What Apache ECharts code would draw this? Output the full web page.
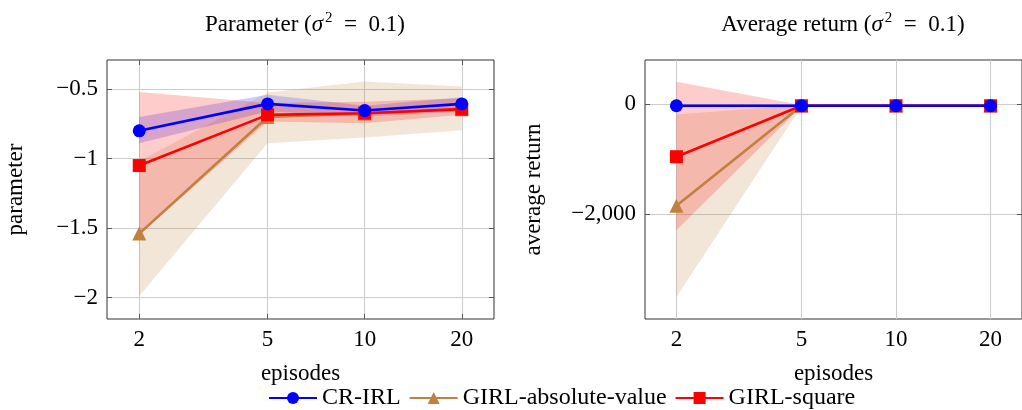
<!DOCTYPE html>
<html>
<head>
<meta charset="utf-8">
<script src="https://cdn.jsdelivr.net/npm/echarts@6/dist/echarts.min.js"></script>
<style>
  html, body { margin: 0; padding: 0; background: #fff; }
  #chart { width: 1022px; height: 410px; }
</style>
</head>
<body>
<div id="chart"></div>
<script>
// Episodes on a log-scaled x axis
const episodes = [2, 5, 10, 20];
const methodNames = ['CR-IRL', 'GIRL-absolute-value', 'GIRL-square'];

// Left panel: learned parameter (mean, lower and upper band)
const paramMean = {
  'CR-IRL':              [-0.80, -0.606, -0.654, -0.606],
  'GIRL-absolute-value': [-1.54, -0.70, -0.675, -0.645],
  'GIRL-square':         [-1.05, -0.685, -0.673, -0.644]
};
const paramLow = {
  'CR-IRL':              [-0.89, -0.66, -0.697, -0.661],
  'GIRL-absolute-value': [-1.99, -0.889, -0.848, -0.795],
  'GIRL-square':         [-1.55, -0.733, -0.745, -0.685]
};
const paramHigh = {
  'CR-IRL':              [-0.70, -0.541, -0.62, -0.558],
  'GIRL-absolute-value': [-1.02, -0.524, -0.445, -0.481],
  'GIRL-square':         [-0.52, -0.60, -0.59, -0.565]
};

// Right panel: average return (mean, lower and upper band)
const returnMean = {
  'CR-IRL':              [-30, -30, -30, -30],
  'GIRL-absolute-value': [-1843, -30, -30, -30],
  'GIRL-square':         [-955, -30, -30, -30]
};
const returnLow = {
  'CR-IRL':              [-45, -45, -45, -45],
  'GIRL-absolute-value': [-3500, -45, -45, -45],
  'GIRL-square':         [-2290, -45, -45, -45]
};
const returnHigh = {
  'CR-IRL':              [-15, -15, -15, -15],
  'GIRL-absolute-value': [-190, -15, -15, -15],
  'GIRL-square':         [405, -15, -15, -15]
};

const paramTicks = [-2, -1.5, -1, -0.5];
const returnTicks = [-2000, 0];

const colors = {
  'CR-IRL': '#0000ff',
  'GIRL-absolute-value': '#bf8040',
  'GIRL-square': '#ff0000'
};
const bandFill = {
  'CR-IRL': 'rgba(0,0,255,0.2)',
  'GIRL-absolute-value': 'rgba(191,128,64,0.2)',
  'GIRL-square': 'rgba(255,0,0,0.2)'
};
const symbols = {
  'CR-IRL': 'circle',
  'GIRL-absolute-value': 'triangle',
  'GIRL-square': 'rect'
};
const zOrder = { 'CR-IRL': 6, 'GIRL-absolute-value': 4, 'GIRL-square': 5 };

const FONT = '"Liberation Serif", "Times New Roman", serif';
const lg = v => Math.log10(v);
const xTickVals = episodes.map(lg);
const xMin = lg(2) - 0.1, xMax = lg(20) + 0.1;
const minus = s => s.replace('-', '\u2212');
const tickStyle = { color: '#555', width: 1 };

function xAxes(gridIndex) {
  const common = {
    type: 'value', gridIndex, min: xMin, max: xMax,
    axisLine: { show: false },
    splitLine: { show: false }
  };
  return [
    Object.assign({}, common, {
      position: 'bottom',
      name: 'episodes', nameLocation: 'middle', nameGap: 43,
      nameTextStyle: { fontFamily: FONT, fontSize: 23, color: '#000' },
      axisTick: { show: true, inside: true, length: 5, customValues: xTickVals, lineStyle: tickStyle },
      axisLabel: { show: true, customValues: xTickVals, margin: 9, fontFamily: FONT, fontSize: 23, color: '#000',
                   formatter: v => String(Math.round(Math.pow(10, v))) },
      splitLine: { show: true, lineStyle: { color: '#cccccc', width: 1 } }
    }),
    Object.assign({}, common, {
      position: 'top',
      axisTick: { show: true, inside: true, length: 5, customValues: xTickVals, lineStyle: tickStyle },
      axisLabel: { show: false, customValues: xTickVals }
    })
  ];
}

function yAxes(gridIndex, min, max, ticks, name, gap, fmt) {
  return [
    {
      type: 'value', gridIndex, min, max, position: 'left',
      name, nameLocation: 'middle', nameGap: gap,
      nameTextStyle: { fontFamily: FONT, fontSize: 23, color: '#000' },
      axisLine: { show: false },
      axisTick: { show: true, inside: true, length: 5, customValues: ticks, lineStyle: tickStyle },
      axisLabel: { show: true, customValues: ticks, margin: 9, fontFamily: FONT, fontSize: 23, color: '#000', formatter: fmt },
      splitLine: { show: true, lineStyle: { color: '#cccccc', width: 1 } }
    },
    {
      type: 'value', gridIndex, min, max, position: 'right',
      axisLine: { show: false },
      axisTick: { show: true, inside: true, length: 5, customValues: ticks, lineStyle: tickStyle },
      axisLabel: { show: false, customValues: ticks },
      splitLine: { show: false }
    }
  ];
}

// Shaded band between the lower and upper values of one method
function bandSeries(axisIndex, name, low, high) {
  return {
    type: 'custom', name: name + ' band', xAxisIndex: axisIndex, yAxisIndex: axisIndex,
    silent: true, z: 1,
    data: episodes.map((e, i) => [lg(e), low[name][i], high[name][i]]),
    encode: { x: 0, y: [1, 2] },
    renderItem: (params, api) => {
      if (params.dataIndex !== 0) return null;
      const upper = [], lower = [];
      episodes.forEach((e, i) => {
        upper.push(api.coord([lg(e), high[name][i]]));
        lower.push(api.coord([lg(e), low[name][i]]));
      });
      return {
        type: 'polygon',
        shape: { points: upper.concat(lower.reverse()) },
        style: { fill: bandFill[name] }
      };
    }
  };
}

function panelSeries(gridIndex, mean, low, high) {
  const axisIndex = gridIndex * 2;
  const out = [];
  methodNames.forEach(name => out.push(bandSeries(axisIndex, name, low, high)));
  methodNames.forEach(name => {
    out.push({
      type: 'line', name, xAxisIndex: axisIndex, yAxisIndex: axisIndex,
      data: episodes.map((e, i) => [lg(e), mean[name][i]]),
      color: colors[name],
      symbol: symbols[name], symbolSize: name === 'GIRL-absolute-value' ? 14 : 13,
      lineStyle: { width: 2.6, color: colors[name] },
      itemStyle: { color: colors[name] },
      z: zOrder[name]
    });
  });
  return out;
}

const titleRich = {
  a: { fontFamily: FONT, fontSize: 23, color: '#000', lineHeight: 28 },
  s: { fontFamily: FONT, fontSize: 23, fontStyle: 'italic', color: '#000', lineHeight: 28, padding: [0, 2, 0, 0] },
  p: { fontFamily: FONT, fontSize: 15, color: '#000', verticalAlign: 'top', lineHeight: 22 }
};

const option = {
  animation: false,
  backgroundColor: '#fff',
  title: [
    { text: '{a|Parameter (}{s|σ}{p|2}{a|  =  0.1)}', left: 300, top: 6, textAlign: 'center',
      textStyle: { fontWeight: 'normal', rich: titleRich } },
    { text: '{a|Average return (}{s|σ}{p|2}{a|  =  0.1)}', left: 838, top: 6, textAlign: 'center',
      textStyle: { fontWeight: 'normal', rich: titleRich } }
  ],
  legend: {
    data: methodNames, top: 386, left: 268, itemGap: 8, padding: 0,
    itemWidth: 48, itemHeight: 15,
    textStyle: { fontFamily: FONT, fontSize: 24, color: '#000' }
  },
  grid: [
    { left: 107, top: 60, width: 387, height: 259, show: true, borderColor: '#333', borderWidth: 1, backgroundColor: 'transparent' },
    { left: 645, top: 60, width: 387, height: 259, show: true, borderColor: '#333', borderWidth: 1, backgroundColor: 'transparent' }
  ],
  xAxis: [].concat(xAxes(0), xAxes(1)),
  yAxis: [].concat(
    yAxes(0, -2.155, -0.29, paramTicks, 'parameter', 80, v => minus(String(v))),
    yAxes(1, -3900, 800, returnTicks, 'average return', 100, v => minus(v.toLocaleString('en-US')))
  ),
  series: [].concat(
    panelSeries(0, paramMean, paramLow, paramHigh),
    panelSeries(1, returnMean, returnLow, returnHigh)
  )
};

const chart = echarts.init(document.getElementById('chart'), null, { renderer: 'canvas' });
chart.setOption(option);
</script>
</body>
</html>
